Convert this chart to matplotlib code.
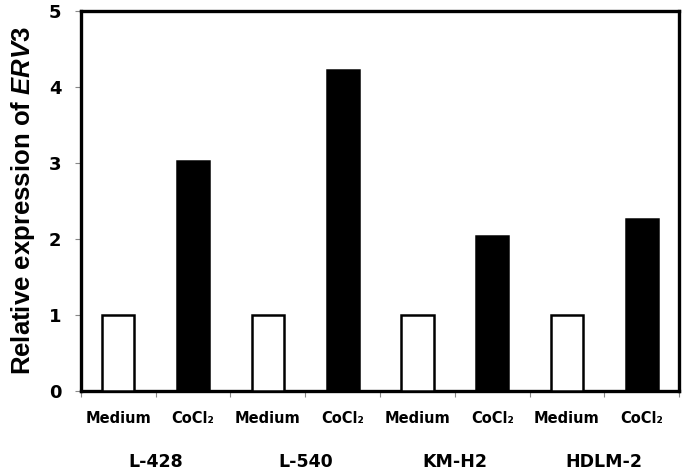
import matplotlib
matplotlib.use("Agg")
from matplotlib import pyplot as plt
import matplotlib.transforms as mtransforms

# values
cell_lines = ["L-428", "L-540", "KM-H2", "HDLM-2"]
conditions = ["Medium", "CoCl\u2082"]
medium = [1.0, 1.0, 1.0, 1.0]
cocl2 = [3.03, 4.22, 2.04, 2.27]
yticks = [0, 1, 2, 3, 4, 5]

plt.rcParams['mathtext.fontset'] = 'custom'
plt.rcParams['mathtext.rm'] = 'Liberation Sans:bold'
plt.rcParams['mathtext.it'] = 'Liberation Sans:italic:bold'

fig = plt.figure(figsize=(6.86, 4.73), dpi=100)
ax = fig.add_axes([0.118, 0.173, 0.872, 0.804])

values = []
labels = []
for m, c in zip(medium, cocl2):
    values += [m, c]
    labels += conditions
xs = list(range(len(values)))
colors = ['white' if i % 2 == 0 else 'black' for i in xs]

ax.bar(xs, values, width=0.43, color=colors, edgecolor='black', linewidth=1.8, zorder=3)

ax.set_xlim(-0.5, len(values) - 0.5)
ax.set_ylim(0, 5)
ax.set_yticks(yticks)
ax.set_yticklabels([str(t) for t in yticks], fontsize=13, fontweight='bold', family='DejaVu Sans')
ax.tick_params(axis='y', length=4, width=0.8, color='#888888', pad=10)

ax.set_xticks(xs)
ax.set_xticklabels(labels, fontsize=10.5, fontweight='bold', family='DejaVu Sans')
ax.set_xticks([i - 0.5 for i in range(len(values) + 1)], minor=True)
ax.tick_params(axis='x', which='major', length=0, pad=14)
ax.tick_params(axis='x', which='minor', length=4, width=0.8, color='#888888')

for s in ax.spines.values():
    s.set_linewidth(2.4)

trans = mtransforms.blended_transform_factory(ax.transData, ax.transAxes)
for i, name in enumerate(cell_lines):
    ax.text(2 * i + 0.5, -0.185, name, transform=trans, ha='center', va='center',
            fontsize=12.5, fontweight='bold', family='DejaVu Sans')

ax.set_ylabel(r"Relative expression of $\it{ERV3}$", fontsize=18.5,
              family='Liberation Sans', fontweight='bold', labelpad=9)

fig.savefig("out.png", dpi=100)
